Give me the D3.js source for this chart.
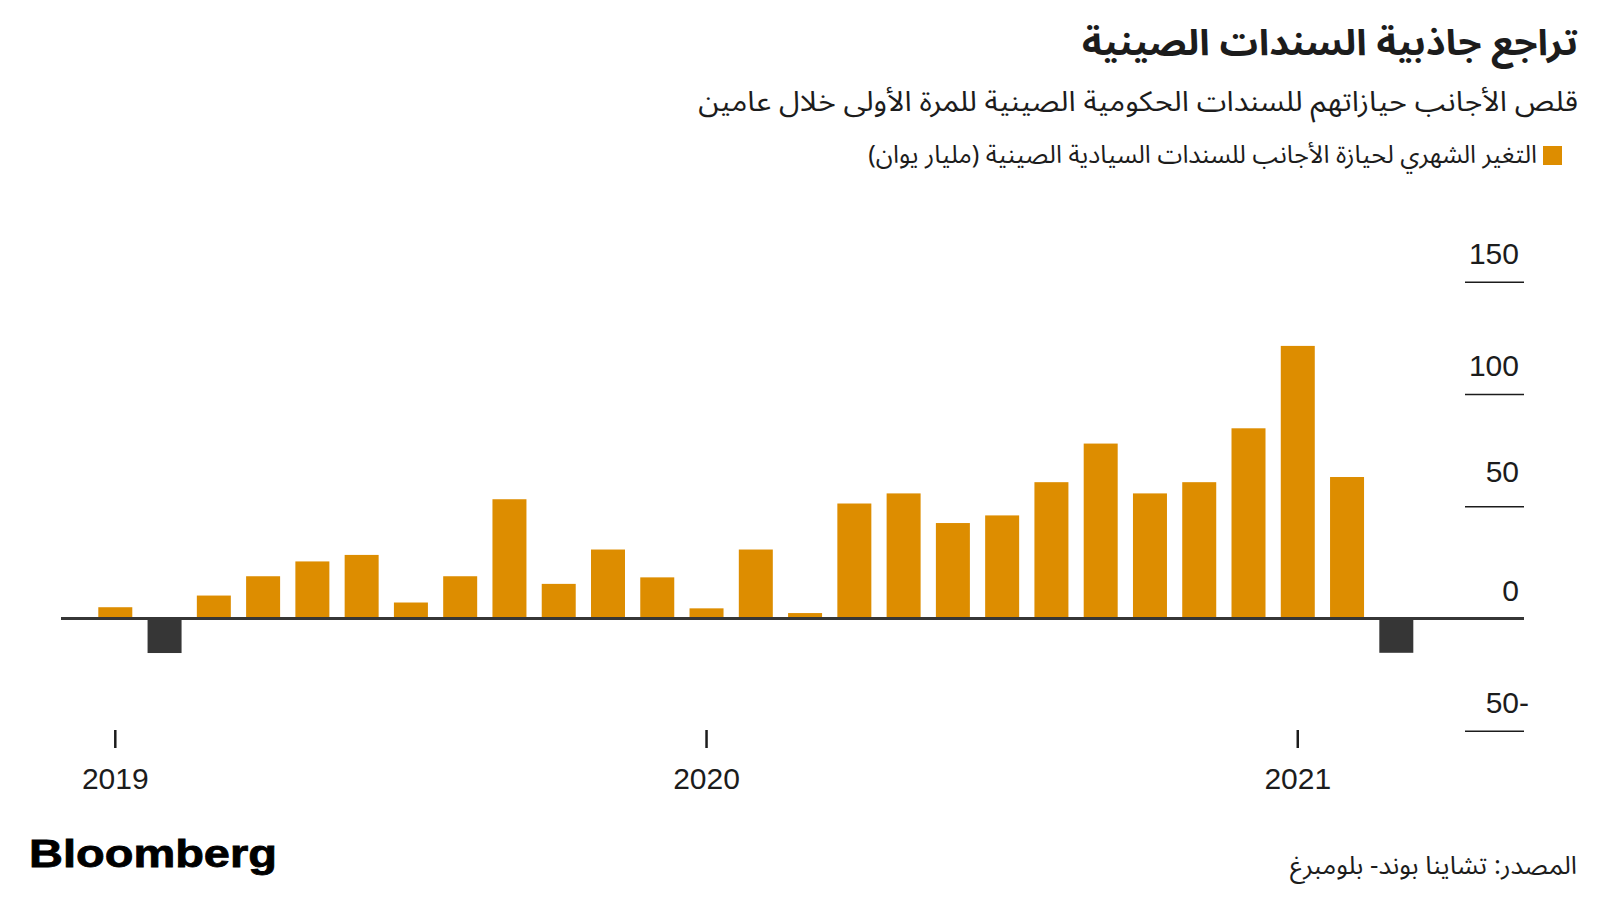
<!DOCTYPE html>
<html>
<head>
<meta charset="utf-8">
<script src="https://cdn.jsdelivr.net/npm/d3@7"></script>
<style>
  body { margin: 0; background: #fff; }
  svg { display: block; }
</style>
</head>
<body>
<svg id="chart" width="1600" height="900"></svg>
<script>
// data (billion yuan, monthly change)
const months = ["2019-01", "2019-02", "2019-03", "2019-04", "2019-05", "2019-06", "2019-07", "2019-08", "2019-09",
    "2019-10", "2019-11", "2019-12", "2020-01", "2020-02", "2020-03", "2020-04", "2020-05", "2020-06",
    "2020-07", "2020-08", "2020-09", "2020-10", "2020-11", "2020-12", "2021-01", "2021-02", "2021-03"];
const values = [5.0, -15.4, 10.2, 18.8, 25.4, 28.3, 7.1, 18.8, 53.1,
    15.4, 30.7, 18.3, 4.5, 30.7, 2.4, 51.2, 55.7, 42.5,
    45.9, 60.7, 77.9, 55.7, 60.7, 84.7, 121.4, 63.0, -15.3];
const yTicks = [-50, 0, 50, 100, 150];
const yearTicks = ["2019-01", "2020-01", "2021-01"];

const title = "تراجع جاذبية السندات الصينية";
const subtitle = "قلص الأجانب حيازاتهم للسندات الحكومية الصينية للمرة الأولى خلال عامين";
const legendLabel = "التغير الشهري لحيازة الأجانب للسندات السيادية الصينية (مليار يوان)";
const source = "المصدر: تشاينا بوند- بلومبرغ";

const data = months.map((m, i) => ({ month: m, value: values[i] }));

const orange = "#dd8d00", dark = "#363636", ink = "#1c1c1c";
const arabicFont = "'Noto Sans Arabic', 'DejaVu Sans', sans-serif";
const numFont = "'Liberation Sans', Arial, sans-serif";

const svg = d3.select("#chart");
svg.append("rect").attr("width", 1600).attr("height", 900).attr("fill", "#fff");

// squeeze an rtl text horizontally so it spans the wanted width
function rtlText(txt, right, baseline, size, weight, width) {
    const t = svg.append("text")
        .attr("direction", "rtl")
        .attr("text-anchor", "start")
        .attr("x", 0).attr("y", 0)
        .style("font-family", arabicFont)
        .style("font-size", size + "px")
        .style("font-weight", weight)
        .attr("fill", ink)
        .text(txt);
    const w = t.node().getComputedTextLength();
    const sx = width / w;
    t.attr("transform", "translate(" + right + "," + baseline + ") scale(" + sx + ",1)");
    return t;
}

rtlText(title, 1578, 55, 36, "bold", 496);
rtlText(subtitle, 1578, 111, 28, "normal", 880);
rtlText(legendLabel, 1537, 163, 25, "normal", 669);
rtlText(source, 1577, 874, 25, "normal", 287);

// legend swatch
svg.append("rect")
    .attr("x", 1543).attr("y", 146)
    .attr("width", 19).attr("height", 19)
    .attr("fill", orange);

// scales
var x = d3.scaleBand()
    .domain(months)
    .range([90.66, 1420.95])
    .paddingInner(0.31)
    .paddingOuter(0.155);

var y = d3.scaleLinear()
    .domain([-50, 150])
    .range([730.7, 281.7]);

// y axis on the right, labels sitting on top of short rules
const yAxis = svg.append("g")
    .attr("transform", "translate(1524,0)")
    .call(d3.axisLeft(y).tickValues(yTicks).tickSize(59).tickFormat(d => Math.abs(d)));
yAxis.select(".domain").remove();
yAxis.selectAll(".tick line").attr("stroke", ink).attr("stroke-width", 1.6);
yAxis.selectAll(".tick text")
    .attr("x", -5).attr("y", d => d === 50 ? -25 : -18).attr("dy", null)
    .attr("text-anchor", "end")
    .attr("fill", ink)
    .style("font-family", numFont)
    .style("font-size", "30px");
yAxis.selectAll(".tick").filter(d => d < 0)
    .append("text")
    .attr("x", -5).attr("y", -18)
    .attr("text-anchor", "start")
    .attr("fill", ink)
    .style("font-family", numFont)
    .style("font-size", "30px")
    .text("-");

// bars
svg.selectAll("rect.bar")
    .data(data)
    .enter()
    .append("rect")
    .attr("class", "bar")
    .attr("x", d => x(d.month))
    .attr("y", d => y(Math.max(0, d.value)))
    .attr("width", x.bandwidth())
    .attr("height", d => Math.abs(y(d.value) - y(0)))
    .attr("fill", d => d.value < 0 ? dark : orange);

// zero line
svg.append("line")
    .attr("x1", 61).attr("x2", 1524)
    .attr("y1", y(0)).attr("y2", y(0))
    .attr("stroke", dark)
    .attr("stroke-width", 3);

// x axis: one tick per January
const xAxis = svg.append("g")
    .attr("transform", "translate(0,730)")
    .call(d3.axisBottom(x).tickValues(yearTicks).tickSize(18).tickPadding(20)
        .tickFormat(d => d.slice(0, 4)));
xAxis.select(".domain").remove();
xAxis.selectAll(".tick line").attr("stroke", ink).attr("stroke-width", 2.5);
xAxis.selectAll(".tick text")
    .attr("fill", ink)
    .style("font-family", numFont)
    .style("font-size", "30px");

// logo
svg.append("text")
    .attr("x", 29).attr("y", 867)
    .attr("textLength", 248)
    .attr("lengthAdjust", "spacingAndGlyphs")
    .style("font-family", numFont)
    .style("font-weight", "bold")
    .style("font-size", "39px")
    .attr("fill", "#000")
    .attr("stroke", "#000")
    .attr("stroke-width", 0.8)
    .text("Bloomberg");
</script>
</body>
</html>
